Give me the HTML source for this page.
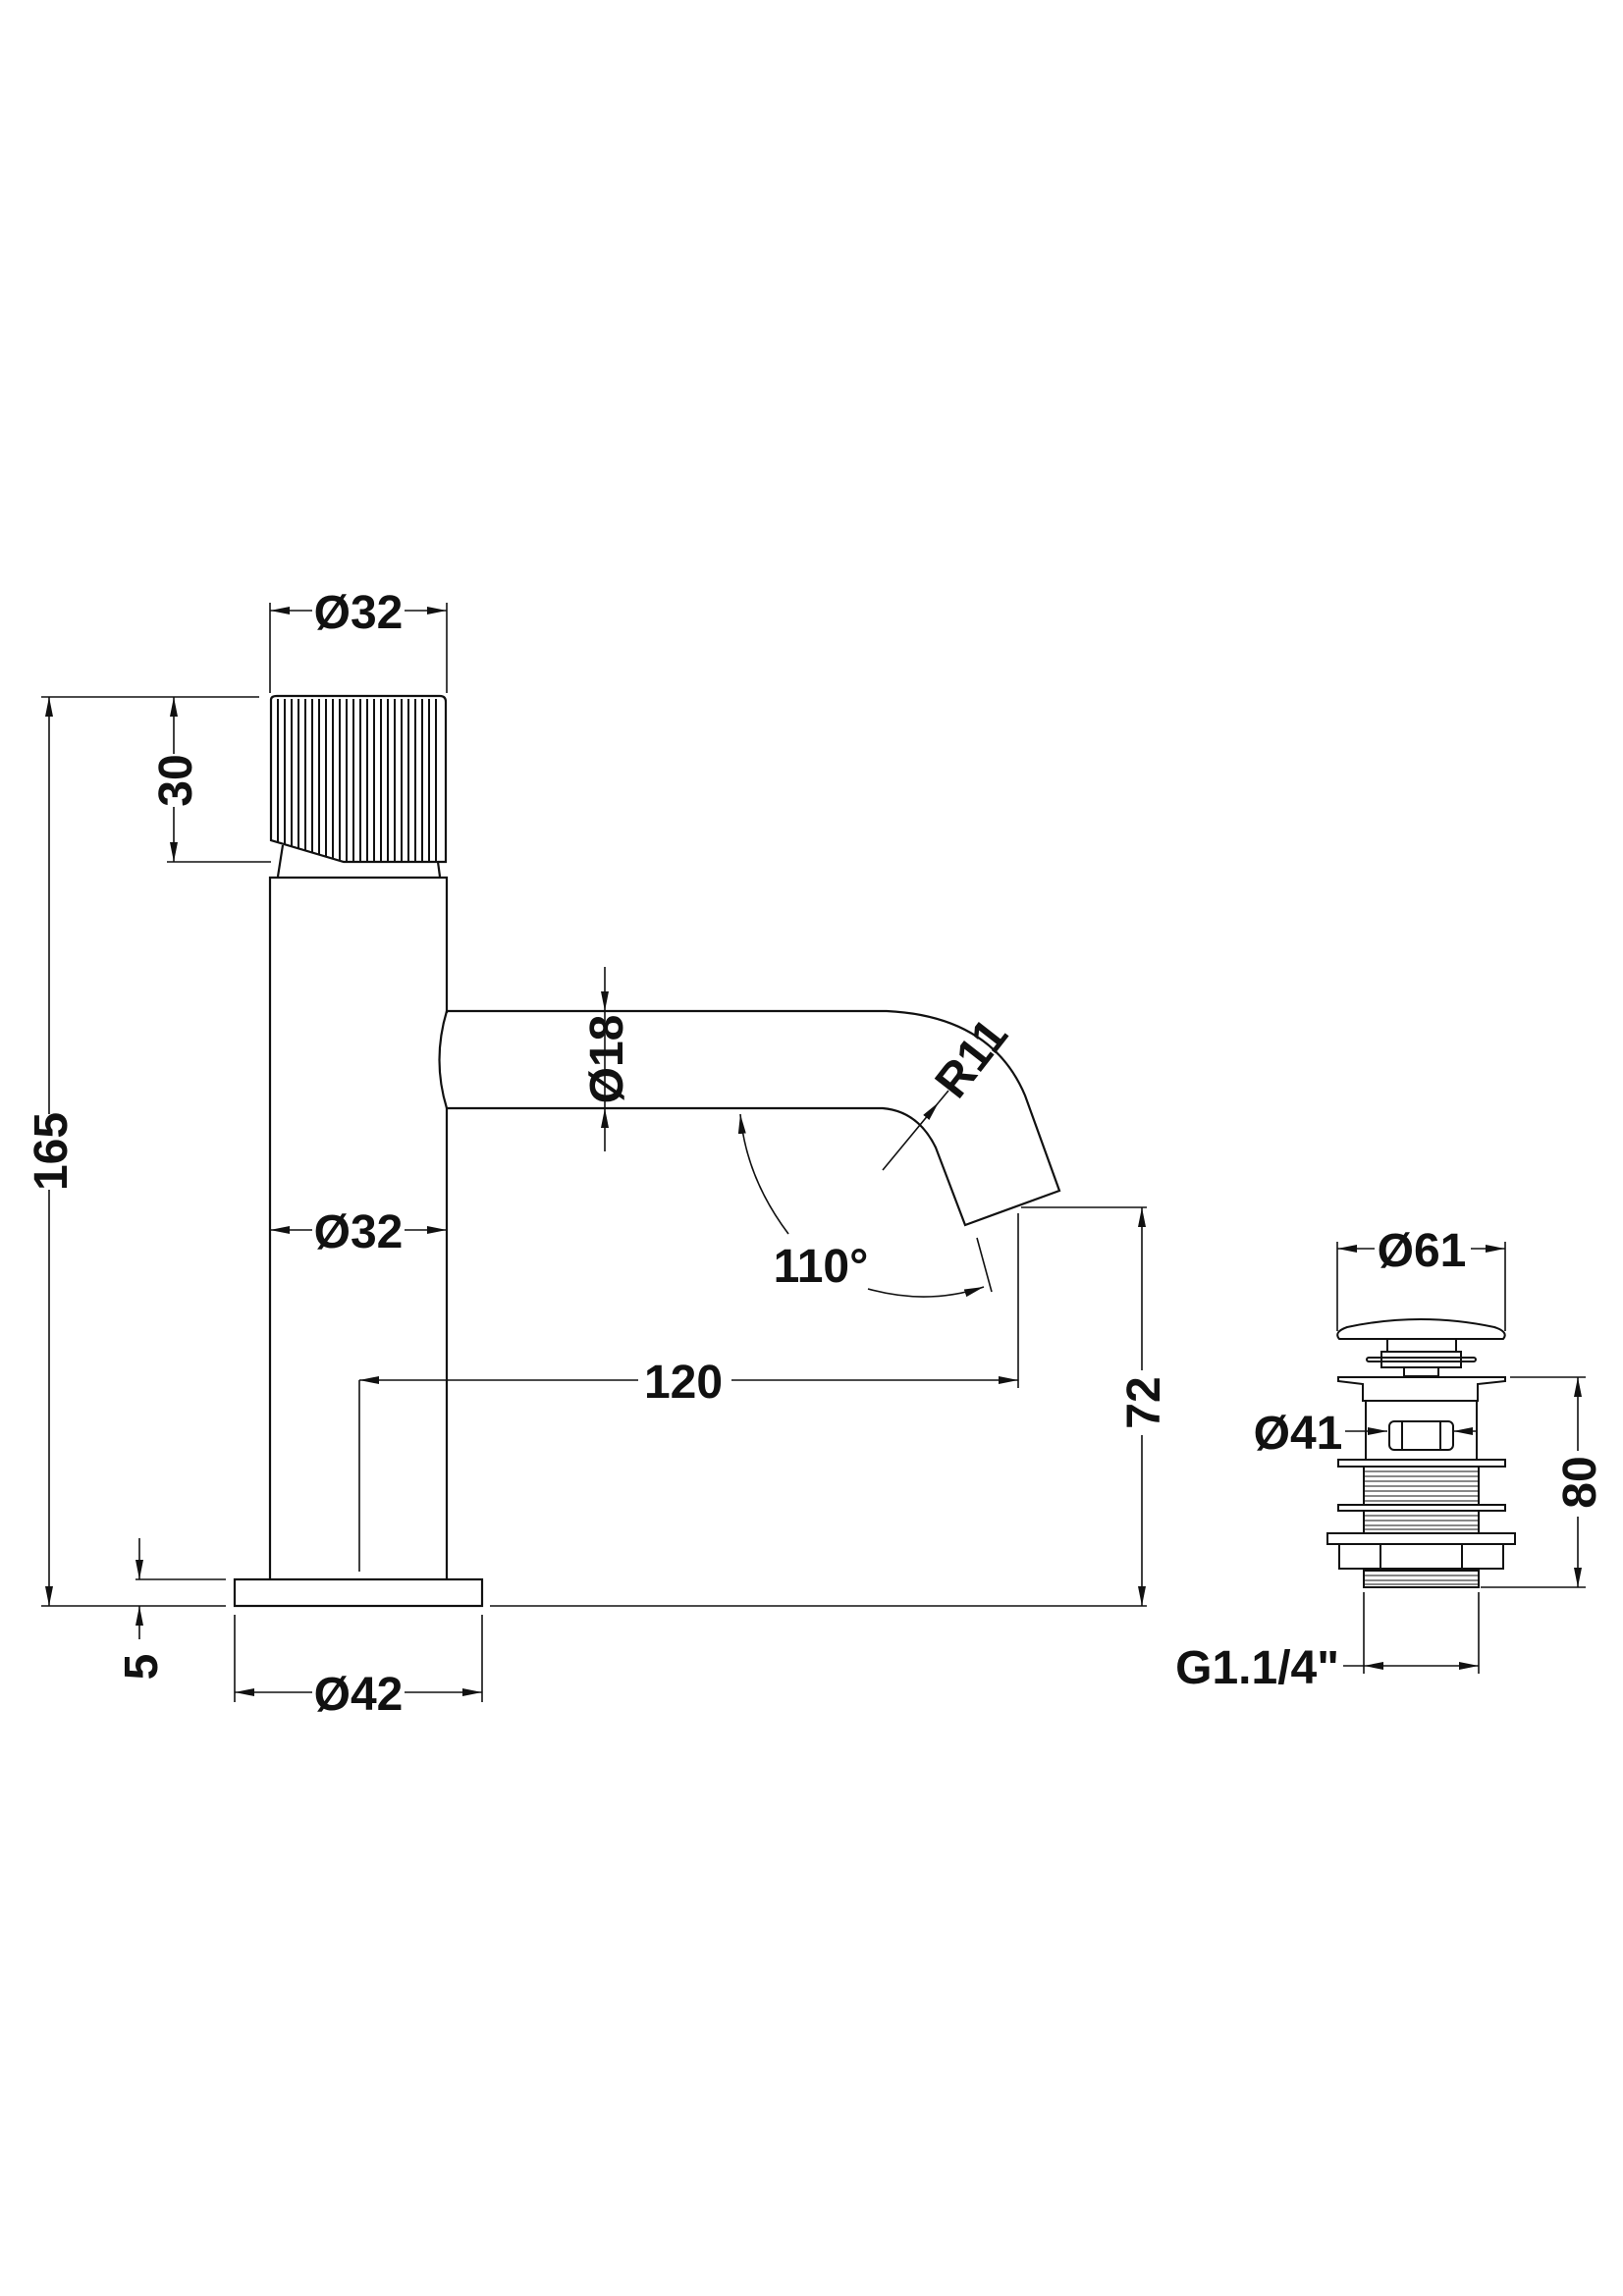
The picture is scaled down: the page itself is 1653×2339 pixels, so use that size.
<!DOCTYPE html>
<html><head><style>
html,body{margin:0;padding:0;background:#fff;}
svg{display:block;}
text{font-family:"Liberation Sans",sans-serif;font-weight:bold;font-size:48px;fill:#111;}
</style></head><body>
<svg width="1653" height="2339" viewBox="0 0 1653 2339" xmlns="http://www.w3.org/2000/svg">
<defs>
<marker id="a" viewBox="0 0 20 8" refX="20" refY="4" markerWidth="20" markerHeight="8" markerUnits="userSpaceOnUse" orient="auto-start-reverse"><path d="M0,0 L20,4 L0,8 z" fill="#111"/></marker>
</defs>
<g stroke="#111" stroke-width="2.2" fill="none">
<!-- knob -->
<path d="M276,713 Q276,709 282,709 L448,709 Q454,709 454,715 L454,878 L350,878 L276,856 Z"/>
<g stroke-width="2">
<line x1="283" y1="712" x2="283" y2="858"/><line x1="290" y1="712" x2="290" y2="860"/><line x1="297" y1="712" x2="297" y2="862"/><line x1="304" y1="712" x2="304" y2="864"/><line x1="311" y1="712" x2="311" y2="866"/><line x1="318" y1="712" x2="318" y2="868"/><line x1="325" y1="712" x2="325" y2="870"/><line x1="332" y1="712" x2="332" y2="872"/><line x1="339" y1="712" x2="339" y2="874"/><line x1="346" y1="712" x2="346" y2="877"/><line x1="353" y1="712" x2="353" y2="878"/><line x1="360" y1="712" x2="360" y2="878"/><line x1="367" y1="712" x2="367" y2="878"/><line x1="374" y1="712" x2="374" y2="878"/><line x1="381" y1="712" x2="381" y2="878"/><line x1="388" y1="712" x2="388" y2="878"/><line x1="395" y1="712" x2="395" y2="878"/><line x1="402" y1="712" x2="402" y2="878"/><line x1="409" y1="712" x2="409" y2="878"/><line x1="416" y1="712" x2="416" y2="878"/><line x1="423" y1="712" x2="423" y2="878"/><line x1="430" y1="712" x2="430" y2="878"/><line x1="437" y1="712" x2="437" y2="878"/><line x1="444" y1="712" x2="444" y2="878"/>
</g>
<line x1="288" y1="861" x2="283" y2="893"/><line x1="446" y1="878" x2="448" y2="893"/>
<!-- body -->
<path d="M275,1608 L275,894 L455,894 L455,1032 M455,1129 L455,1608"/>
<rect x="239" y="1609" width="252" height="27"/>
<!-- spout -->
<path d="M455,1030 L903,1030 Q1010,1035 1044,1116 L1079,1213 L983,1248 L953,1169 Q935,1132 899,1129 L455,1129"/>
<path d="M455,1030 Q440,1080 455,1129"/>
</g>
<!-- dimension lines -->
<g stroke="#111" stroke-width="1.6" fill="none">
<!-- top Ø32 -->
<line x1="275" y1="614" x2="275" y2="706"/><line x1="455" y1="614" x2="455" y2="706"/>
<line x1="318" y1="622" x2="275" y2="622" marker-end="url(#a)"/><line x1="412" y1="622" x2="455" y2="622" marker-end="url(#a)"/>
<!-- 165 -->
<line x1="42" y1="710" x2="264" y2="710"/><line x1="42" y1="1636" x2="230" y2="1636"/>
<line x1="50" y1="1135" x2="50" y2="710" marker-end="url(#a)"/><line x1="50" y1="1212" x2="50" y2="1636" marker-end="url(#a)"/>
<!-- 30 -->
<line x1="170" y1="878" x2="276" y2="878"/>
<line x1="177" y1="768" x2="177" y2="710" marker-end="url(#a)"/><line x1="177" y1="822" x2="177" y2="878" marker-end="url(#a)"/>
<!-- mid Ø32 -->
<line x1="318" y1="1253" x2="275" y2="1253" marker-end="url(#a)"/><line x1="412" y1="1253" x2="455" y2="1253" marker-end="url(#a)"/>
<!-- Ø18 -->
<line x1="616" y1="985" x2="616" y2="1030" marker-end="url(#a)"/><line x1="616" y1="1173" x2="616" y2="1129" marker-end="url(#a)"/>
<line x1="616" y1="1030" x2="616" y2="1129"/>
<!-- R11 -->
<line x1="899" y1="1192" x2="956" y2="1123" marker-end="url(#a)"/><line x1="956" y1="1123" x2="966" y2="1111"/>
<!-- 110 -->
<path d="M803,1257 Q760,1200 754,1135" marker-end="url(#a)"/>
<path d="M884,1313 Q945,1330 1002,1311" marker-end="url(#a)"/>
<line x1="995" y1="1261" x2="1010" y2="1316"/>
<!-- 120 -->
<line x1="366" y1="1406" x2="366" y2="1601"/><line x1="1037" y1="1236" x2="1037" y2="1414"/>
<line x1="650" y1="1406" x2="366" y2="1406" marker-end="url(#a)"/><line x1="745" y1="1406" x2="1037" y2="1406" marker-end="url(#a)"/>
<!-- 72 -->
<line x1="1040" y1="1230" x2="1168" y2="1230"/><line x1="499" y1="1636" x2="1168" y2="1636"/>
<line x1="1163" y1="1396" x2="1163" y2="1230" marker-end="url(#a)"/><line x1="1163" y1="1462" x2="1163" y2="1636" marker-end="url(#a)"/>
<!-- 5 -->
<line x1="138" y1="1609" x2="230" y2="1609"/>
<line x1="142" y1="1567" x2="142" y2="1609" marker-end="url(#a)"/><line x1="142" y1="1670" x2="142" y2="1636" marker-end="url(#a)"/>
<!-- Ø42 -->
<line x1="239" y1="1645" x2="239" y2="1734"/><line x1="491" y1="1645" x2="491" y2="1734"/>
<line x1="318" y1="1724" x2="239" y2="1724" marker-end="url(#a)"/><line x1="412" y1="1724" x2="491" y2="1724" marker-end="url(#a)"/>
<!-- Ø61 -->
<line x1="1362" y1="1265" x2="1362" y2="1356"/><line x1="1533" y1="1265" x2="1533" y2="1356"/>
<line x1="1400" y1="1272" x2="1362" y2="1272" marker-end="url(#a)"/><line x1="1498" y1="1272" x2="1533" y2="1272" marker-end="url(#a)"/>
<!-- 80 -->
<line x1="1538" y1="1403" x2="1615" y2="1403"/><line x1="1508" y1="1617" x2="1615" y2="1617"/>
<line x1="1607" y1="1478" x2="1607" y2="1403" marker-end="url(#a)"/><line x1="1607" y1="1545" x2="1607" y2="1617" marker-end="url(#a)"/>
<!-- Ø41 -->
<line x1="1370" y1="1458" x2="1413" y2="1458" marker-end="url(#a)"/><line x1="1503" y1="1458" x2="1480" y2="1458" marker-end="url(#a)"/>
<!-- G -->
<line x1="1389" y1="1622" x2="1389" y2="1705"/><line x1="1506" y1="1622" x2="1506" y2="1705"/>
<line x1="1368" y1="1697" x2="1389" y2="1697"/>
<line x1="1447" y1="1697" x2="1389" y2="1697" marker-end="url(#a)"/><line x1="1447" y1="1697" x2="1506" y2="1697" marker-end="url(#a)"/>
</g>
<!-- drain -->
<g stroke="#111" stroke-width="2" fill="none">
<path d="M1364,1364 Q1358,1357 1372,1352 Q1447,1336 1522,1352 Q1537,1357 1531,1364 Z"/>
<rect x="1413" y="1364" width="70" height="13"/>
<rect x="1407" y="1377" width="81" height="16"/>
<rect x="1392" y="1383" width="111" height="4" rx="2"/>
<rect x="1430" y="1393" width="35" height="9"/>
<path d="M1363,1403 L1533,1403 L1533,1407 L1505,1410 L1505,1427 L1388,1427 L1388,1410 L1363,1407 Z"/>
<rect x="1391" y="1427" width="113" height="60"/>
<rect x="1415" y="1448" width="65" height="29" rx="5"/>
<line x1="1428" y1="1448" x2="1428" y2="1477"/><line x1="1467" y1="1448" x2="1467" y2="1477"/>
<rect x="1363" y="1487" width="170" height="7"/>
<rect x="1389" y="1494" width="117" height="39"/>
<rect x="1363" y="1533" width="170" height="6"/>
<rect x="1389" y="1539" width="117" height="23"/>
<rect x="1352" y="1562" width="191" height="11"/>
<path d="M1364,1573 L1364,1598 L1531,1598 L1531,1573 M1406,1573 L1406,1598 M1489,1573 L1489,1598"/>
<rect x="1389" y="1600" width="117" height="17"/>
</g>
<g stroke="#111" stroke-width="1">
<path d="M1389,1499 H1506 M1389,1504 H1506 M1389,1509 H1506 M1389,1514 H1506 M1389,1519 H1506 M1389,1524 H1506 M1389,1529 H1506 M1389,1544 H1506 M1389,1549 H1506 M1389,1554 H1506 M1389,1558 H1506 M1389,1605 H1506 M1389,1610 H1506 M1389,1614 H1506"/>
</g>
<!-- labels -->
<text x="365" y="640" text-anchor="middle">Ø32</text>
<text x="365" y="1271" text-anchor="middle">Ø32</text>
<text x="365" y="1742" text-anchor="middle">Ø42</text>
<text x="696" y="1424" text-anchor="middle">120</text>
<text transform="translate(68,1173) rotate(-90)" text-anchor="middle">165</text>
<text transform="translate(195,795) rotate(-90)" text-anchor="middle">30</text>
<text transform="translate(634,1079) rotate(-90)" text-anchor="middle">Ø18</text>
<text transform="translate(1181,1429) rotate(-90)" text-anchor="middle">72</text>
<text transform="translate(160,1698) rotate(-90)" text-anchor="middle">5</text>
<text transform="translate(1002,1088) rotate(-52)" text-anchor="middle">R11</text>
<text x="836" y="1306" text-anchor="middle">110°</text>
<text x="1448" y="1290" text-anchor="middle">Ø61</text>
<text x="1322" y="1476" text-anchor="middle">Ø41</text>
<text transform="translate(1625,1510) rotate(-90)" text-anchor="middle">80</text>
<text x="1364" y="1715" text-anchor="end">G1.1/4"</text>
</svg>
</body></html>
